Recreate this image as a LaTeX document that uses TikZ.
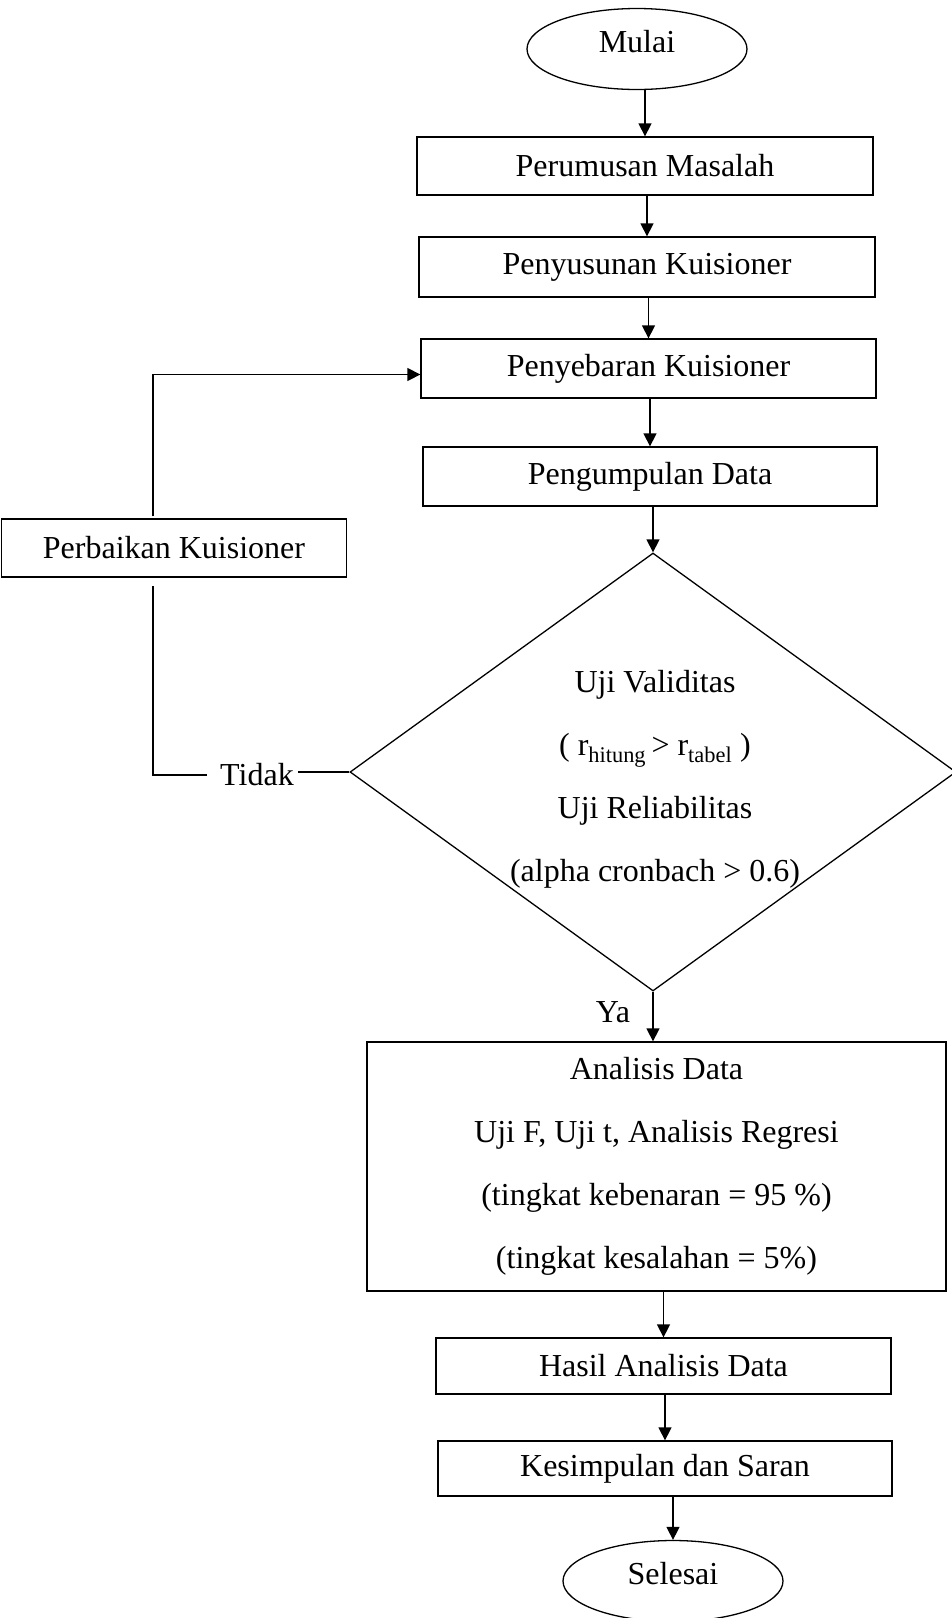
\documentclass[tikz,border=0pt]{standalone}
\usepackage{fontspec}
\setmainfont{Liberation Serif}
\usetikzlibrary{shapes.geometric,arrows.meta,calc}
\begin{document}
\begin{tikzpicture}[x=1pt,y=-1pt,
  every node/.style={font=\fontsize{32}{63}\selectfont},
  box/.style={draw,line width=1.3pt,rectangle,inner sep=0pt},
  term/.style={draw,line width=1.3pt,ellipse,inner sep=0pt,minimum width=220pt,minimum height=81pt,text depth=16pt},
  decision/.style={draw,line width=1.3pt,diamond,inner sep=0pt,minimum width=606pt,minimum height=438pt},
  arr/.style={line width=1.3pt,-{Triangle[length=13pt,width=13pt]}},
  conn/.style={line width=1.3pt},
]
\useasboundingbox (0,0) rectangle (951,1618);
% nodes
\node[term] (mulai) at (637,49) {Mulai};
\node[box,minimum width=456pt,minimum height=58pt] (p1) at (645,166) {Perumusan Masalah};
\node[box,minimum width=456pt,minimum height=60pt] (p2) at (647,267) {Penyusunan Kuisioner};
\node[box,minimum width=455pt,minimum height=59pt] (p3) at (648.5,368.5) {Penyebaran Kuisioner};
\node[box,minimum width=454pt,minimum height=59pt] (p4) at (650,476.5) {Pengumpulan Data};
\node[box,minimum width=345pt,minimum height=58pt] (perb) at (174,548) {Perbaikan Kuisioner};
\node[decision] (dec) at (653,772) {};
\node[align=center] (dtext) at (655,779) {Uji Validitas\\( r\textsubscript{hitung}\,> r\textsubscript{tabel} )\\Uji Reliabilitas\\(alpha cronbach > 0.6)};
\node[inner xsep=4pt,inner ysep=0pt] (tidak) at (257,775) {Tidak};
\node[inner sep=0pt] (ya) at (613,1012) {Ya};
\node[box,align=center,minimum width=579pt,minimum height=249pt] (anal) at (656.5,1166.5) {Analisis Data\\Uji F, Uji t, Analisis Regresi\\(tingkat kebenaran = 95 \%)\\(tingkat kesalahan = 5\%)};
\node[box,minimum width=455pt,minimum height=56pt] (hasil) at (663.5,1366) {Hasil Analisis Data};
\node[box,minimum width=454pt,minimum height=55pt] (kes) at (665,1468.5) {Kesimpulan dan Saran};
\node[term] (selesai) at (673,1581) {Selesai};
\coordinate (c1) at (153,779);
% connectors
\draw[arr] (p1.north |- mulai.south) -- (p1.north);
\draw[arr] (p2.north |- p1.south) -- (p2.north);
\draw[arr] (p3.north |- p2.south) -- (p3.north);
\draw[arr] (p4.north |- p3.south) -- (p4.north);
\draw[arr] (dec.north |- p4.south) -- (dec.north);
\draw[arr] (dec.south) -- (dec.south |- anal.north);
\draw[arr] (hasil.north |- anal.south) -- (hasil.north);
\draw[arr] (kes.north |- hasil.south) -- (kes.north);
\draw[arr] (selesai.north |- kes.south) -- (selesai.north);
\draw[conn] (dec.west) -- (dec.west -| tidak.east);
\draw[conn,shorten <=9pt,shorten >=8pt] (tidak.west) -| (perb.south -| c1);
\draw[arr,shorten <=2pt] (perb.north -| c1) |- ([yshift=-6pt]p3.west);
\end{tikzpicture}
\end{document}
